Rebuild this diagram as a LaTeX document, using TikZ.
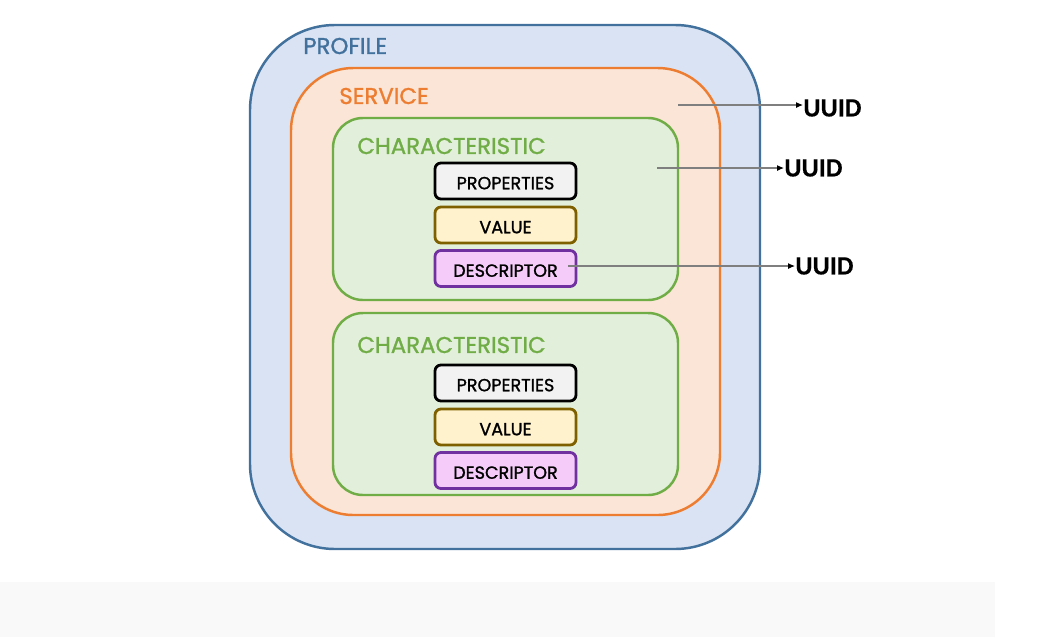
\documentclass[tikz,border=0pt]{standalone}
\usepackage{fontspec}
\setmainfont{Carlito}[FakeBold=0.4]
\newfontfamily\gothic[FakeBold=1.2]{Poppins}
\usepackage{xcolor}
\usetikzlibrary{arrows.meta,positioning}

\definecolor{profileline}{HTML}{41719C}
\definecolor{profilefill}{HTML}{DAE3F3}
\definecolor{serviceline}{HTML}{ED7D31}
\definecolor{servicefill}{HTML}{FBE5D6}
\definecolor{charline}{HTML}{70AD47}
\definecolor{charfill}{HTML}{E2EFDA}
\definecolor{propfill}{HTML}{F2F2F2}
\definecolor{valueline}{HTML}{7F6000}
\definecolor{valuefill}{HTML}{FFF2CC}
\definecolor{descline}{HTML}{7030A0}
\definecolor{descfill}{HTML}{F5CCF9}
\definecolor{arrowgray}{HTML}{7F7F7F}
\definecolor{bandfill}{HTML}{F9F9F9}

\begin{document}
\begin{tikzpicture}[x=0.2mm,y=-0.2mm,>=Latex,
  layer/.style={draw,line width=1.4pt,rounded corners=#1,inner sep=0pt},
  title/.style={anchor=west,inner sep=0pt,font=\gothic\fontsize{13}{13}\selectfont},
  field/.style={draw,line width=1.6pt,rounded corners=1.2mm,minimum width=28.2mm,
    minimum height=7.2mm,inner sep=0pt,text height=3.3mm,text depth=0pt,
    font=\gothic\fontsize{10}{10}\selectfont},
  uuid/.style={anchor=west,inner sep=0pt,font=\bfseries\fontsize{15}{15}\selectfont},
  link/.style={arrowgray,line width=0.6pt,-{Latex[length=1.4mm,width=1.2mm,black]}}]
  \useasboundingbox (0,0) rectangle (1055,637);
  \fill[bandfill] (0,582) rectangle (995,637);

  \node[layer=17mm,profileline,fill=profilefill,minimum width=102mm,minimum height=104.8mm] (profile) at (505,287) {};
  \node[title,text=profileline] (profilelabel) at (303,46) {PROFILE};

  \node[layer=12.5mm,serviceline,fill=servicefill,minimum width=85.8mm,minimum height=89.4mm] (service) at (505.5,291.5) {};
  \node[title,text=serviceline] (servicelabel) at (339,96) {SERVICE};

  \node[layer=6mm,charline,fill=charfill,minimum width=69mm,minimum height=36.4mm] (char1) at (505.5,209) {};
  \node[title,text=charline] (char1label) at (357,146) {CHARACTERISTIC};
  \node[field,fill=propfill] (prop1) at (505.5,181) {PROPERTIES};
  \node[field,valueline,fill=valuefill,text=black] (value1) at (505.5,225) {VALUE};
  \node[field,descline,fill=descfill,text=black] (desc1) at (505.5,268.5) {DESCRIPTOR};

  \node[layer=6mm,charline,fill=charfill,minimum width=69mm,minimum height=36.4mm] (char2) at (505.5,404) {};
  \node[title,text=charline] (char2label) at (357,345) {CHARACTERISTIC};
  \node[field,fill=propfill] (prop2) at (505.5,383) {PROPERTIES};
  \node[field,valueline,fill=valuefill,text=black] (value2) at (505.5,427) {VALUE};
  \node[field,descline,fill=descfill,text=black] (desc2) at (505.5,470.5) {DESCRIPTOR};

  \node[uuid] (uuid1) at (803,108) {UUID};
  \node[uuid] (uuid2) at (784,168) {UUID};
  \node[uuid] (uuid3) at (795,266) {UUID};

  \coordinate (svcstart) at (678,105);
  \coordinate (charstart) at (657,168);
  \coordinate (descstart) at (568,266);
  \draw[link] (svcstart) -- (svcstart -| uuid1.west);
  \draw[link] (charstart) -- (charstart -| uuid2.west);
  \draw[link] (descstart) -- (descstart -| uuid3.west);
\end{tikzpicture}
\end{document}
